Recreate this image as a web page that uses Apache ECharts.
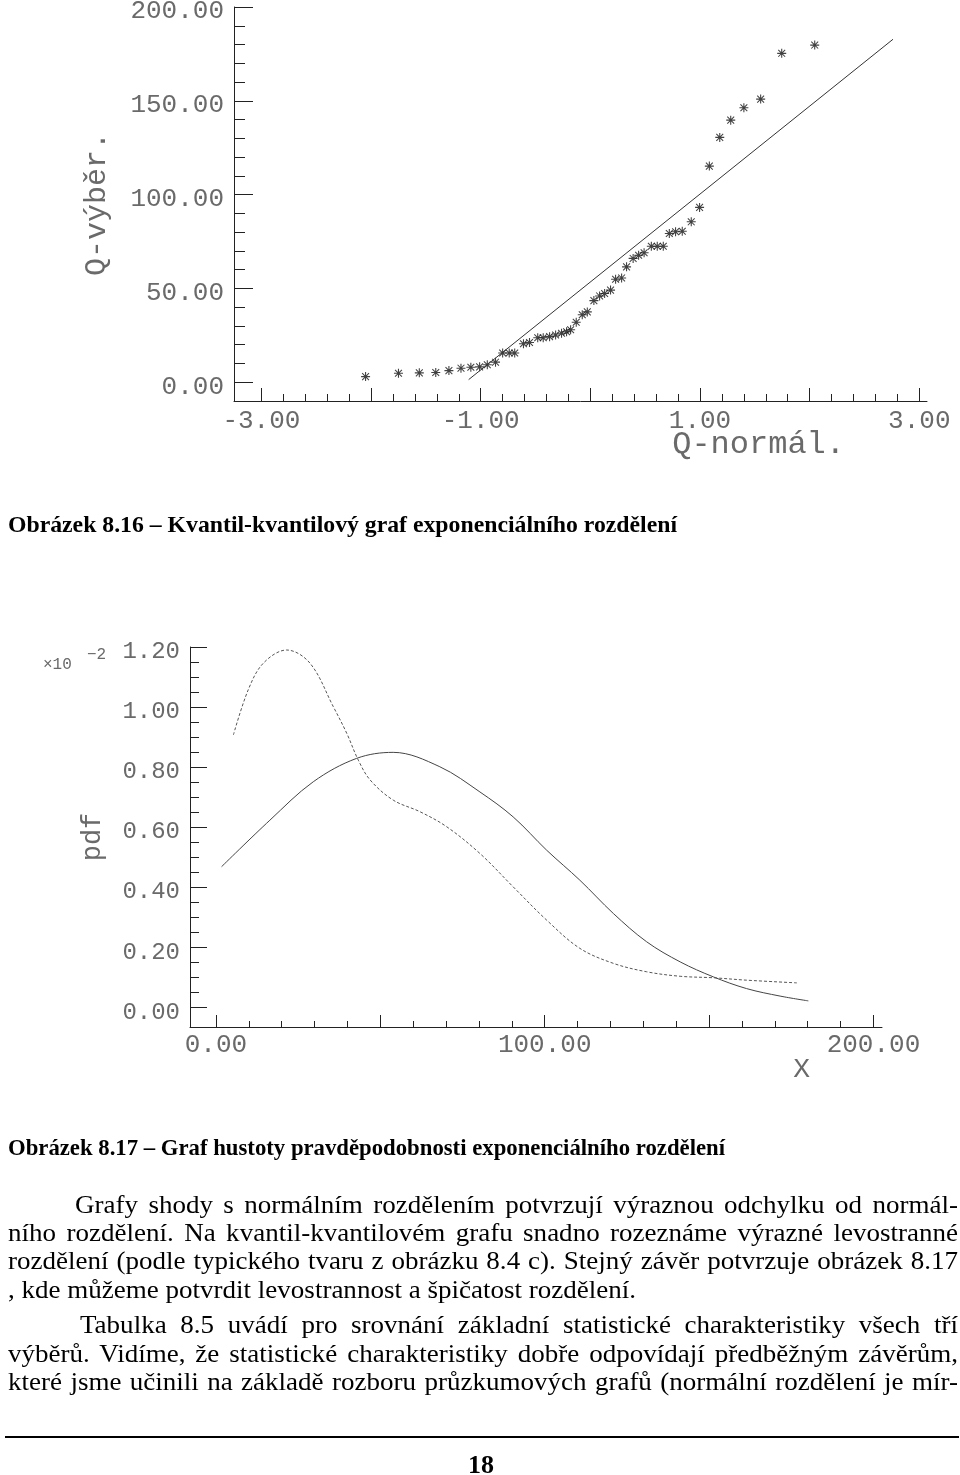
<!DOCTYPE html>
<html><head><meta charset="utf-8">
<script src="https://cdn.jsdelivr.net/npm/echarts@6/dist/echarts.min.js"></script>
<style>
html,body{margin:0;padding:0;background:#fff;}
#page{position:relative;width:960px;height:1475px;overflow:hidden;background:#fff;}
#chart{position:absolute;left:0;top:0;width:960px;height:1475px;}
#text{position:absolute;left:0;top:0;width:960px;height:1475px;pointer-events:none;}
.t{position:absolute;white-space:nowrap;font-family:'Liberation Serif','Times New Roman',serif;color:#000;transform-origin:0 0;}
#rule{position:absolute;left:5px;width:954px;top:1436px;height:2px;background:#000;}
</style></head><body>
<div id="page"><div id="chart"></div><div id="text"><div id="rule"></div></div></div>
<script>
// ---------- Figure 8.16 : Q-Q plot ----------
const qqNormal = [-2.05, -1.75, -1.56, -1.41, -1.29, -1.18, -1.09, -1.01, -0.94, -0.865,
  -0.80, -0.74, -0.69, -0.61, -0.555, -0.48, -0.43, -0.372, -0.317, -0.263,
  -0.217, -0.18, -0.129, -0.074, -0.028, 0.032, 0.084, 0.13, 0.184, 0.23,
  0.285, 0.33, 0.39, 0.44, 0.49, 0.556, 0.61, 0.665, 0.72, 0.777,
  0.838, 0.92, 0.996, 1.085, 1.18, 1.28, 1.40, 1.553, 1.745, 2.046];
const qqSample = [3.0, 4.8, 5.0, 5.2, 6.2, 7.5, 8.0, 8.2, 9.3, 10.7,
  15.6, 15.6, 15.6, 20.5, 21.2, 23.7, 23.7, 24.3, 25.2, 26.1,
  26.9, 28.0, 32.0, 36.0, 37.5, 43.5, 46.0, 47.3, 49.1, 54.9,
  55.6, 61.5, 66.0, 67.7, 69.0, 72.5, 72.5, 72.5, 79.3, 80.2,
  80.5, 85.5, 93.2, 115.2, 130.5, 139.7, 146.3, 150.9, 175.3, 179.7];
const refLineX = [-1.11, 2.76];
const refLineY = [1.4, 182.8];
const qqXLabels = [-3, -1, 1, 3];
const qqXMajorTicks = [-3, -2, -1, 0, 1, 2, 3];
const qqYLabels = [0, 50, 100, 150, 200];
const qqYMajorTicks = [0, 50, 100, 150, 200];

// ---------- Figure 8.17 : density ----------
const pdfAX = [1.7, 16.4, 29.6, 42.8, 53.9, 68.1, 80.3, 90.4, 100.6, 110.7, 120.9, 131.0, 141.2, 151.3, 161.4, 171.6, 180.2];
const pdfAY = [0.468, 0.623, 0.751, 0.829, 0.849, 0.801, 0.717, 0.634, 0.523, 0.423, 0.312, 0.218, 0.151, 0.101, 0.062, 0.037, 0.021];
const pdfBX = [5.3, 9.8, 14.4, 21.5, 28.6, 35.7, 39.8, 43.3, 46.9, 53.9, 62.1, 70.2, 80.3, 90.4, 100.6, 110.7, 120.9, 131.0, 141.2, 151.3, 161.4, 176.7];
const pdfBY = [0.907, 1.057, 1.146, 1.19, 1.146, 1.001, 0.912, 0.823, 0.757, 0.69, 0.651, 0.601, 0.512, 0.401, 0.29, 0.196, 0.146, 0.118, 0.103, 0.098, 0.09, 0.081];
const pdfXLabels = [0, 100, 200];
const pdfXMajorTicks = [0, 50, 100, 150, 200];
const pdfYLabels = [0, 0.2, 0.4, 0.6, 0.8, 1.0, 1.2];
const pdfYMajorTicks = [0, 0.2, 0.4, 0.6, 0.8, 1.0, 1.2];

// ---------- text ----------
const caption1 = 'Obrázek 8.16 – Kvantil-kvantilový graf exponenciálního rozdělení';
const caption2 = 'Obrázek 8.17 – Graf hustoty pravděpodobnosti exponenciálního rozdělení';
const bodyLines = [
  'Grafy shody s normálním rozdělením potvrzují výraznou odchylku od normál-',
  'ního rozdělení. Na kvantil-kvantilovém grafu snadno rozeznáme výrazné levostranné',
  'rozdělení (podle typického tvaru z obrázku 8.4 c). Stejný závěr potvrzuje obrázek 8.17',
  ', kde můžeme potvrdit levostrannost a špičatost rozdělení.',
  'Tabulka 8.5  uvádí pro srovnání základní statistické charakteristiky všech tří',
  'výběrů.   Vidíme, že statistické charakteristiky dobře odpovídají předběžným závěrům,',
  'které jsme učinili na základě rozboru průzkumových grafů (normální rozdělení je mír-'
];
const pageNumber = '18';

// minor tick values (every 10 / 0.2 / 0.05)
function range(a, b, s) { const r = []; for (let i = 0; a + i * s <= b + 1e-9; i++) r.push(+(a + i * s).toFixed(4)); return r; }
const isMul = (v, m) => Math.abs(v / m - Math.round(v / m)) < 1e-6;
const qqXMinor = range(-2.8, 2.8, 0.2).filter(v => !isMul(v, 1));
const qqYMinor = range(10, 190, 10).filter(v => !isMul(v, 50));
const pdfXMinor = range(10, 190, 10).filter(v => !isMul(v, 50));
const pdfYMinor = range(0.05, 1.15, 0.05).filter(v => !isMul(v, 0.2));

const FONT = "'Liberation Mono','DejaVu Sans Mono',monospace";
const AX = '#222';
const LBL = '#6a6a6a';
const STAR = 'path://M44,0L56,0L56,100L44,100Z M0,44L100,44L100,56L0,56Z M8,16L16,8L92,84L84,92Z M84,8L92,16L16,92L8,84Z';

function mainAxis(o) {
  return Object.assign({
    type: 'value', splitLine: { show: false }, nameMoveOverlap: false,
    axisLine: { show: true, onZero: false, lineStyle: { color: AX, width: 1 } },
  }, o);
}
function minorAxis(o) {
  return Object.assign({
    type: 'value', splitLine: { show: false }, offset: 0,
    axisLine: { show: false, onZero: false },
    axisLabel: { show: false }
  }, o);
}
const tickStyle = { color: AX, width: 1 };

const qqXRange = { min: -3.25, max: 3.07 };
const qqYRange = { min: -10, max: 200 };
const pdfXRange = { min: -7.9, max: 202.6 };
const pdfYRange = { min: -0.066, max: 1.2 };

const option = {
  animation: false,
  backgroundColor: 'transparent',
  grid: [
    { left: 234, right: 33, top: 7, bottom: 1074, outerBoundsMode: 'none', containLabel: false },
    { left: 190, right: 78, top: 647, bottom: 448, outerBoundsMode: 'none', containLabel: false }
  ],
  xAxis: [
    mainAxis(Object.assign({ gridIndex: 0, position: 'bottom',
      axisTick: { show: true, inside: true, length: 13, customValues: qqXMajorTicks, lineStyle: tickStyle },
      axisLabel: { customValues: qqXLabels, formatter: v => v.toFixed(2), margin: 7, fontFamily: FONT, fontSize: 26, color: LBL },
      name: 'Q-normál.', nameLocation: 'end', nameGap: -82,
      nameTextStyle: { fontFamily: FONT, fontSize: 32, color: LBL, align: 'right', verticalAlign: 'top', padding: [28, 0, 0, 0] }
    }, qqXRange)),
    minorAxis(Object.assign({ gridIndex: 0, position: 'bottom',
      axisTick: { show: true, inside: true, length: 7, customValues: qqXMinor, lineStyle: tickStyle }
    }, qqXRange)),
    mainAxis(Object.assign({ gridIndex: 1, position: 'bottom',
      axisTick: { show: true, inside: true, length: 12, customValues: pdfXMajorTicks, lineStyle: tickStyle },
      axisLabel: { customValues: pdfXLabels, formatter: v => v.toFixed(2), margin: 5, fontFamily: FONT, fontSize: 26, color: LBL },
      name: 'X', nameLocation: 'end', nameGap: -72,
      nameTextStyle: { fontFamily: FONT, fontSize: 28, color: LBL, align: 'right', verticalAlign: 'top', padding: [29, 0, 0, 0] }
    }, pdfXRange)),
    minorAxis(Object.assign({ gridIndex: 1, position: 'bottom',
      axisTick: { show: true, inside: true, length: 6, customValues: pdfXMinor, lineStyle: tickStyle }
    }, pdfXRange))
  ],
  yAxis: [
    mainAxis(Object.assign({ gridIndex: 0, position: 'left',
      axisTick: { show: true, inside: true, length: 19, customValues: qqYMajorTicks, lineStyle: tickStyle },
      axisLabel: { customValues: qqYLabels, formatter: v => v.toFixed(2), margin: 10, fontFamily: FONT, fontSize: 26, color: LBL, verticalAlign: 'top', lineHeight: 9 },
      name: 'Q-výběr.', nameLocation: 'middle', nameRotate: 90, nameGap: 122,
      nameTextStyle: { fontFamily: FONT, fontSize: 30, color: LBL }
    }, qqYRange)),
    minorAxis(Object.assign({ gridIndex: 0, position: 'left',
      axisTick: { show: true, inside: true, length: 11, customValues: qqYMinor, lineStyle: tickStyle }
    }, qqYRange)),
    mainAxis(Object.assign({ gridIndex: 1, position: 'left',
      axisTick: { show: true, inside: true, length: 17, customValues: pdfYMajorTicks, lineStyle: tickStyle },
      axisLabel: { customValues: pdfYLabels, formatter: v => v.toFixed(2), margin: 10, fontFamily: FONT, fontSize: 24, color: LBL, verticalAlign: 'top', lineHeight: 10 },
      name: 'pdf', nameLocation: 'middle', nameRotate: 90, nameGap: 84,
      nameTextStyle: { fontFamily: FONT, fontSize: 27, color: LBL }
    }, pdfYRange)),
    minorAxis(Object.assign({ gridIndex: 1, position: 'left',
      axisTick: { show: true, inside: true, length: 9, customValues: pdfYMinor, lineStyle: tickStyle }
    }, pdfYRange))
  ],
  graphic: [
    { type: 'text', left: 43, top: 657, style: { text: '×10', font: "16px 'Liberation Mono', monospace", fill: LBL } },
    { type: 'text', left: 87, top: 647, style: { text: '−2', font: "16px 'Liberation Mono', monospace", fill: LBL } }
  ],
  series: [
    { type: 'line', xAxisIndex: 0, yAxisIndex: 0, showSymbol: false, silent: true,
      data: refLineX.map((x, i) => [x, refLineY[i]]), lineStyle: { color: '#333', width: 1 } },
    { type: 'scatter', xAxisIndex: 0, yAxisIndex: 0, symbol: STAR, symbolSize: 9, silent: true,
      data: qqNormal.map((x, i) => [x, qqSample[i]]), itemStyle: { color: '#111' } },
    { type: 'line', xAxisIndex: 2, yAxisIndex: 2, showSymbol: false, smooth: 0.35, silent: true,
      data: pdfAX.map((x, i) => [x, pdfAY[i]]), lineStyle: { color: '#444', width: 1 } },
    { type: 'line', xAxisIndex: 2, yAxisIndex: 2, showSymbol: false, smooth: 0.35, silent: true,
      data: pdfBX.map((x, i) => [x, pdfBY[i]]), lineStyle: { color: '#555', width: 1, type: [3, 2] } }
  ]
};
const chart = echarts.init(document.getElementById('chart'), null, { renderer: 'canvas' });
chart.setOption(option);

// ---------- prose layout ----------
const box = document.getElementById('text');
function makeLine(txt, fs, bold) {
  const d = document.createElement('div');
  d.className = 't';
  d.style.fontSize = fs + 'px';
  d.style.lineHeight = '1.2';
  d.style.fontWeight = bold ? 'bold' : 'normal';
  d.textContent = txt;
  const m = document.createElement('span');
  m.style.cssText = 'display:inline-block;width:0;height:0;vertical-align:baseline;';
  d.appendChild(m);
  box.appendChild(d);
  const natural = d.getBoundingClientRect().width;
  return { d, m, natural };
}
function place(L, left, baseline, sx, justifyWidth) {
  L.d.style.left = left + 'px';
  let s = sx;
  if (justifyWidth) {
    const w = justifyWidth / sx;
    if (L.natural <= w) {
      L.d.style.whiteSpace = 'normal';
      L.d.style.width = w + 'px';
      L.d.style.textAlign = 'justify';
      L.d.style.textAlignLast = 'justify';
    } else {
      s = justifyWidth / L.natural;
    }
  }
  L.d.style.transform = 'scaleX(' + s + ')';
  L.d.style.top = (baseline - L.m.offsetTop) + 'px';
}
// captions: fitted to their measured widths
const c1 = makeLine(caption1, 24, true);
const c2 = makeLine(caption2, 24, true);
place(c1, 8, 532, 669 / c1.natural);
place(c2, 8, 1155, 717 / c2.natural);
// body
const BODY_FS = 26;
const lines = bodyLines.map(t => makeLine(t, BODY_FS, false));
const bodyScale = 628 / lines[3].natural;
const layout = [
  { left: 75, base: 1213, right: 958, just: true },
  { left: 8, base: 1241, right: 958, just: true },
  { left: 8, base: 1269, right: 958, just: true },
  { left: 8, base: 1298, right: 0, just: false },
  { left: 80, base: 1333, right: 958, just: true },
  { left: 8, base: 1362, right: 958, just: true },
  { left: 8, base: 1390, right: 958, just: true }
];
lines.forEach((L, i) => {
  const c = layout[i];
  place(L, c.left, c.base, bodyScale, c.just ? (c.right - c.left) : 0);
});
const pn = makeLine(pageNumber, 26, true);
place(pn, 481 - pn.natural / 2, 1473, 1);
</script></body></html>
